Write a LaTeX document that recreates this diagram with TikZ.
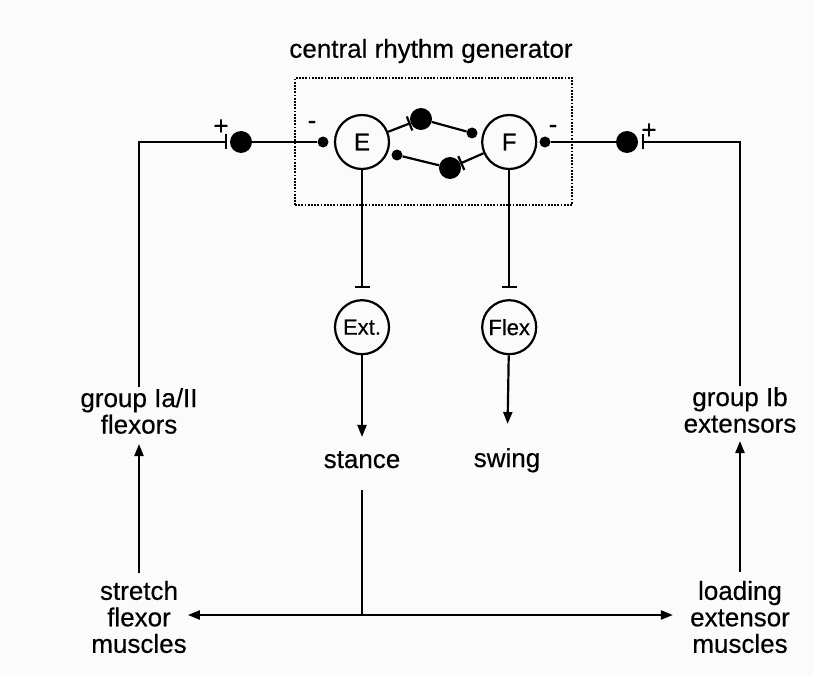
\documentclass[tikz,border=0pt]{standalone}
\usepackage{fontspec}
\setmainfont{Liberation Sans}[FakeBold=0.4]
\usetikzlibrary{positioning,arrows.meta}

\begin{document}
\begin{tikzpicture}[
  x=1pt, y=-1pt,
  txt/.style={align=center, inner sep=1pt, font=\fontsize{26}{26.5}\selectfont},
  cell/.style={circle, draw, line width=2.2pt, minimum size=54pt, inner sep=0pt},
  bigdot/.style={circle, fill, minimum size=22pt, inner sep=0pt},
  smalldot/.style={circle, fill, minimum size=11pt, inner sep=0pt},
  sign/.style={inner sep=0pt, font=\fontsize{26}{26}\selectfont},
  line/.style={line width=2.2pt},
  arr/.style={line width=2.2pt, -{Triangle[length=12pt,width=9pt]}},
  inh/.style={line width=2.2pt, -{Bar[width=15pt]}},
]
\fill[black!1.5] (0,0) rectangle (813,676);
\useasboundingbox (0,0) rectangle (813,676);

\node[txt] (title) at (431,51) {central rhythm generator};
\node[draw, line width=2.6pt, dash pattern=on 1.8pt off 1.4pt,
      minimum width=277pt, minimum height=127pt] (crg) at (433.5,141.5) {};

\node[cell, font=\fontsize{24}{24}\selectfont] (E) at (362,142) {E};
\node[cell, font=\fontsize{24}{24}\selectfont, right=91pt of E] (F) {F};
\node[cell, font=\fontsize{22}{22}\selectfont, below=129pt of E] (Ext) {Ext.};
\node[cell, font=\fontsize{22}{22}\selectfont, below=129pt of F] (Flex) {Flex};

\node[smalldot] (inE) at (323,142) {};
\node[smalldot] (inF) at (545,142) {};
\node[bigdot] (synL) at (241,142) {};
\node[bigdot] (synR) at (627,142) {};
\node[bigdot] (synU) at (421,119) {};
\node[smalldot] (endU) at (472,133) {};
\node[smalldot] (endD) at (397,155) {};
\node[bigdot] (synD) at (450,168) {};

\node[sign] (plusL) at (221,127) {+};
\node[sign] (plusR) at (649,131) {+};
\node[sign] (minusL) at (312,125) {-};
\node[sign] (minusR) at (553,129) {-};

\node[txt] (grpL) at (139,411) {group Ia/II\\flexors};
\node[txt] (grpR) at (740,410) {group Ib\\extensors};
\node[txt] (stretch) at (139,617) {stretch\\flexor\\muscles};
\node[txt] (loading) at (740,617) {loading\\extensor\\muscles};
\node[txt, anchor=base] (stance) at (362,468) {stance};
\node[txt, anchor=base] (swing) at (507,467) {swing};
\coordinate (split) at (362,615);

\draw[line] (synL) -- (inE);
\draw[line] (inF) -- (synR);
\draw[inh] (E) -- (synU);
\draw[line] (synU) -- (endU);
\draw[line] (endD) -- (synD);
\draw[inh] (F) -- (synD);
\draw[inh, shorten >=3pt] (grpL.north) |- (synL);
\draw[inh, shorten >=4pt] (grpR.north) |- (synR);
\draw[inh, shorten >=11pt] (E) -- (Ext);
\draw[inh, shorten >=11pt] (F) -- (Flex);
\draw[arr, shorten >=13pt] (Ext) -- (stance);
\draw[arr, shorten >=23pt] (Flex) -- (swing);
\draw[arr, shorten <=7pt, shorten >=9pt] (stretch) -- (grpL);
\draw[arr, shorten <=8pt, shorten >=7pt] (loading) -- (grpR);
\draw[line, shorten <=21pt] (stance) -- (split);
\draw[arr] (split) -- (split -| stretch.east);
\draw[arr, shorten >=16pt] (split) -- (split -| loading.west);
\end{tikzpicture}
\end{document}
